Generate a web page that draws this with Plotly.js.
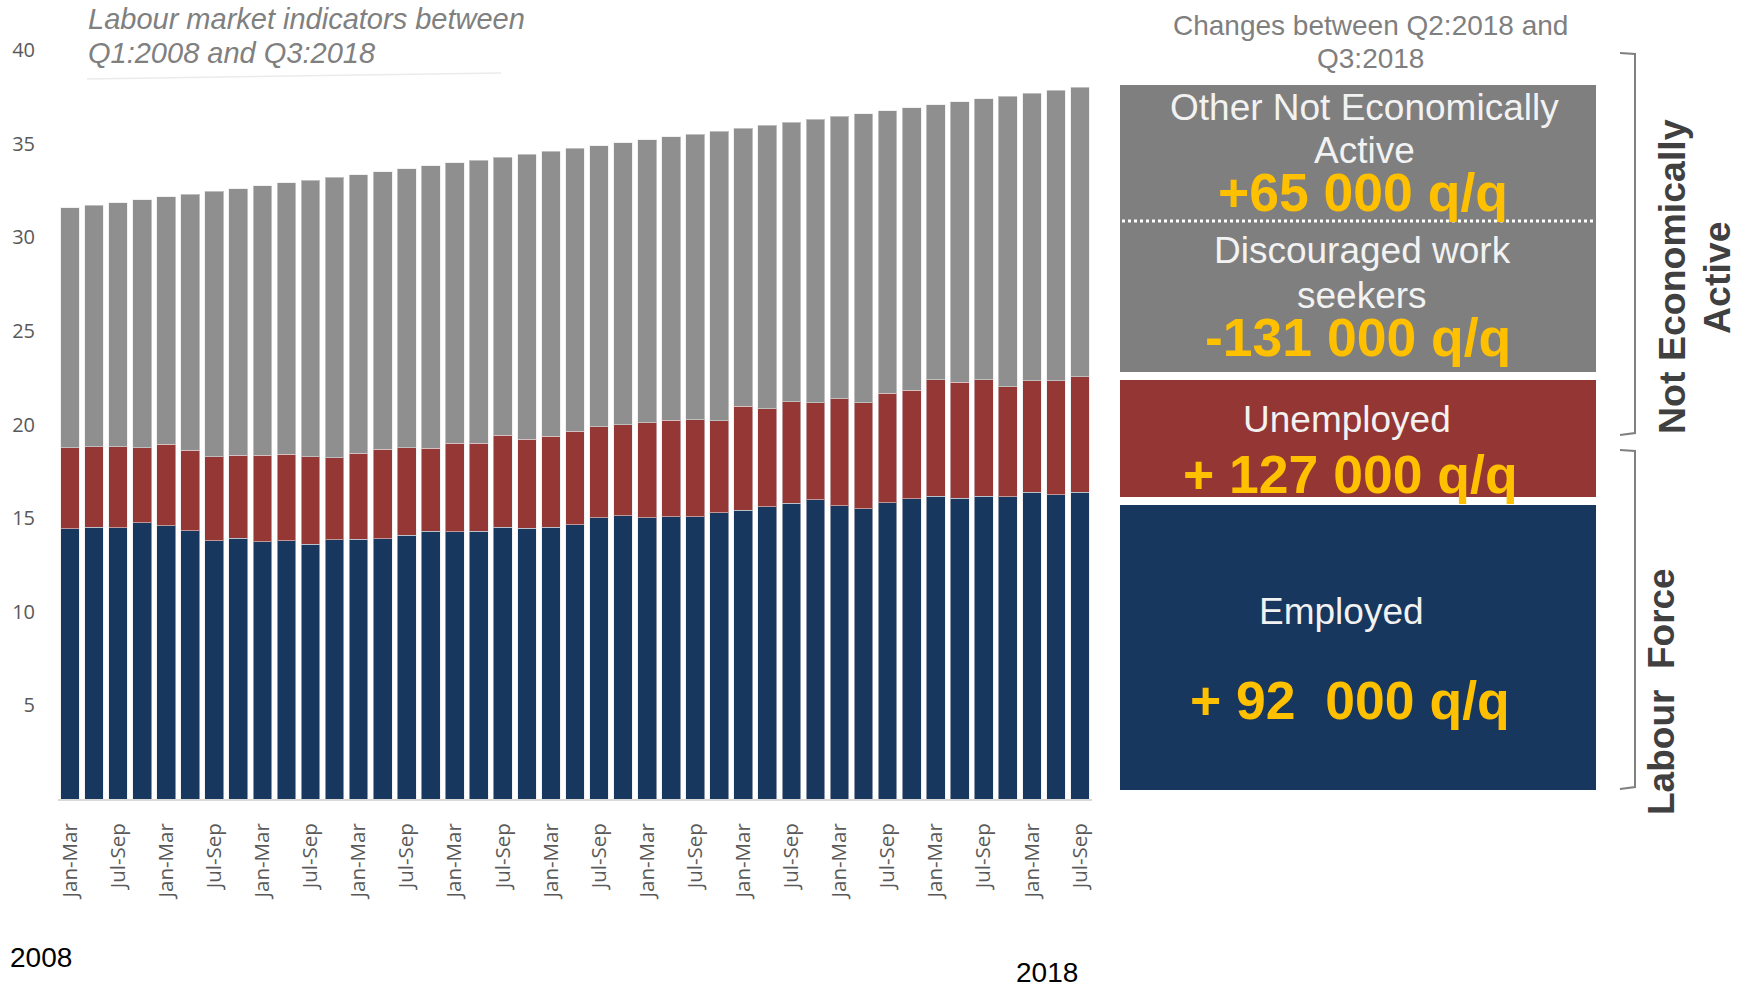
<!DOCTYPE html>
<html>
<head>
<meta charset="utf-8">
<script src="https://cdn.plot.ly/plotly-3.0.1.min.js"></script>
<style>html,body{margin:0;padding:0;background:#fff;}#chart{width:1750px;height:987px;}</style>
</head>
<body>
<div id="chart"></div>
<script>
// ---- data (millions) ----
const years = [2008,2009,2010,2011,2012,2013,2014,2015,2016,2017,2018];
const quarters = ['Jan-Mar','Apr-Jun','Jul-Sep','Oct-Dec'];
const employed = [14.42,14.52,14.49,14.74,14.58,14.33,13.80,13.93,13.74,13.80,13.61,13.85,13.88,13.90,14.08,14.31,14.26,14.31,14.52,14.47,14.52,14.64,15.01,15.13,15.03,15.08,15.08,15.29,15.43,15.62,15.79,15.99,15.65,15.51,15.83,16.04,16.18,16.06,16.17,16.13,16.37,16.26,16.37];
const unemployed = [4.35,4.29,4.32,4.03,4.37,4.30,4.47,4.43,4.62,4.60,4.66,4.37,4.59,4.78,4.69,4.43,4.74,4.69,4.91,4.73,4.86,4.99,4.87,4.86,5.06,5.14,5.17,4.91,5.54,5.22,5.43,5.17,5.73,5.65,5.85,5.79,6.21,6.19,6.22,5.89,5.97,6.08,6.18];
const notActive = [12.80,12.90,13.04,13.24,13.21,13.67,14.19,14.24,14.39,14.51,14.78,14.99,14.88,14.83,14.90,15.07,14.97,15.11,14.84,15.24,15.20,15.11,15.02,15.07,15.12,15.15,15.26,15.47,14.84,15.13,14.91,15.14,15.08,15.44,15.08,15.09,14.69,14.99,15.01,15.52,15.36,15.51,15.46];
const yTicks = [5,10,15,20,25,30,35,40];
const chartTitle = ['Labour market indicators between','Q1:2008 and Q3:2018'];
const panelTitle = ['Changes between Q2:2018 and','Q3:2018'];
const panelLabels = {
  otherNEA: ['Other Not Economically','Active'], otherNEAChange: '+65 000 q/q',
  discouraged: ['Discouraged work','seekers'], discouragedChange: '-131 000 q/q',
  unemployed: 'Unemployed', unemployedChange: '+ 127 000 q/q',
  employed: 'Employed', employedChange: '+ 92\u00a0\u00a0000 q/q'
};
const bracketLabels = {nea: ['Not Economically','Active'], lf: 'Labour\u00a0\u00a0Force'};
const yearLabels = ['2008','2018'];

// ---- build categories ----
const categories = [];
const quarterOf = [];
for (const y of years) {
  for (const q of quarters) {
    if (categories.length < employed.length) { categories.push(q + ' ' + y); quarterOf.push(q); }
  }
}
const tickvals = categories.filter((c,i)=>i%2===0);
const ticktext = quarterOf.filter((c,i)=>i%2===0);

// ---- pixel helpers ----
const L=58, R=1092, T=50, B=799;
const px = x => (x-L)/(R-L);
const py = y => (B-y)/(B-T);

const barLine = {color:'rgba(230,230,230,0.55)', width:1};
const traces = [
  {type:'bar', name:'Employed', x:categories, y:employed, marker:{color:'#17375e', line:barLine}},
  {type:'bar', name:'Unemployed', x:categories, y:unemployed, marker:{color:'#953735', line:barLine}},
  {type:'bar', name:'Not economically active', x:categories, y:notActive, marker:{color:'#8f8f8f', line:barLine}}
];

const SANS = 'Liberation Sans, Arial, sans-serif';
function ann(text, x, y, size, color, opts) {
  return Object.assign({text:text, xref:'paper', yref:'paper', x:px(x), y:py(y), xanchor:'center', yanchor:'middle',
    showarrow:false, font:{family:SANS, size:size, color:color}}, opts||{});
}
const WS = 37, YS = 53.5;
const annotations = [
  ann(chartTitle[0], 86, 19, 29, '#808080', {xanchor:'left', font:{family:SANS, size:29, color:'#808080', style:'italic'}}),
  ann(chartTitle[1], 86, 53, 29, '#808080', {xanchor:'left', font:{family:SANS, size:29, color:'#808080', style:'italic'}}),
  ann(panelTitle[0], 1370, 25, 28, '#7f7f7f'),
  ann(panelTitle[1], 1370, 58, 28, '#7f7f7f'),
  ann(panelLabels.otherNEA[0], 1364, 107, WS, '#f2f2f2'),
  ann(panelLabels.otherNEA[1], 1364, 151, WS, '#f2f2f2'),
  ann('<b>'+panelLabels.otherNEAChange+'</b>', 1363, 192, YS, '#ffc000'),
  ann(panelLabels.discouraged[0], 1362, 250, WS, '#f2f2f2'),
  ann(panelLabels.discouraged[1], 1362, 295, WS, '#f2f2f2'),
  ann('<b>'+panelLabels.discouragedChange+'</b>', 1358, 337, YS, '#ffc000'),
  ann(panelLabels.unemployed, 1347, 419, WS, '#f2f2f2'),
  ann('<b>'+panelLabels.unemployedChange+'</b>', 1350, 474, YS, '#ffc000'),
  ann(panelLabels.employed, 1341, 611, WS, '#f2f2f2'),
  ann('<b>'+panelLabels.employedChange+'</b>', 1350, 700, YS, '#ffc000'),
  ann('<b>'+bracketLabels.nea[0]+'</b>', 1672, 277, 37.5, '#404040', {textangle:-90}),
  ann('<b>'+bracketLabels.nea[1]+'</b>', 1717, 278, 37.5, '#404040', {textangle:-90}),
  ann('<b>'+bracketLabels.lf+'</b>', 1661, 692, 37, '#404040', {textangle:-90}),
  ann(yearLabels[0], 41, 958, 28, '#000000'),
  ann(yearLabels[1], 1047, 972, 28, '#000000')
];

const shapes = [
  {type:'line', xref:'paper', yref:'paper', x0:px(87), y0:py(79), x1:px(501), y1:py(73), line:{color:'#ebebeb', width:1.5}},
  {type:'rect', xref:'paper', yref:'paper', x0:px(1120), x1:px(1596), y0:py(85), y1:py(372), fillcolor:'#7f7f7f', line:{width:0}, layer:'below'},
  {type:'line', xref:'paper', yref:'paper', x0:px(1122), x1:px(1596), y0:py(221), y1:py(221), line:{color:'#ffffff', width:3, dash:'dot'}},
  {type:'rect', xref:'paper', yref:'paper', x0:px(1120), x1:px(1596), y0:py(380), y1:py(497), fillcolor:'#943634', line:{width:0}, layer:'below'},
  {type:'rect', xref:'paper', yref:'paper', x0:px(1120), x1:px(1596), y0:py(505), y1:py(790), fillcolor:'#17375e', line:{width:0}, layer:'below'},
  {type:'path', xref:'paper', yref:'paper',
   path:`M ${px(1620)},${py(53)} L ${px(1635)},${py(54)} L ${px(1635)},${py(433)} L ${px(1620)},${py(435)}`,
   line:{color:'#808080', width:2}},
  {type:'path', xref:'paper', yref:'paper',
   path:`M ${px(1620)},${py(450)} L ${px(1635)},${py(451)} L ${px(1635)},${py(787)} L ${px(1620)},${py(789)}`,
   line:{color:'#808080', width:2}}
];

const layout = {
  width:1750, height:987,
  margin:{l:L, r:1750-R, t:T, b:987-B, pad:0},
  paper_bgcolor:'#ffffff', plot_bgcolor:'#ffffff',
  barmode:'stack', bargap:0.22,
  showlegend:false,
  xaxis:{type:'category', categoryorder:'array', categoryarray:categories,
    tickvals:tickvals, ticktext:ticktext, tickangle:-90,
    tickfont:{family:'Open Sans, sans-serif', size:20.5, color:'#595959'},
    ticks:'outside', ticklen:14, tickcolor:'rgba(0,0,0,0)',
    showline:true, linecolor:'#d9d9d9', linewidth:2, showgrid:false, zeroline:false, fixedrange:true},
  yaxis:{range:[0,40], tickvals:yTicks, ticktext:yTicks.map(String),
    tickfont:{family:'Open Sans, sans-serif', size:20, color:'#595959'},
    ticks:'outside', ticklen:18, tickcolor:'rgba(0,0,0,0)',
    showline:false, showgrid:false, zeroline:false, fixedrange:true},
  annotations:annotations, shapes:shapes
};

Plotly.newPlot('chart', traces, layout, {staticPlot:true, displayModeBar:false});
</script>
</body>
</html>
